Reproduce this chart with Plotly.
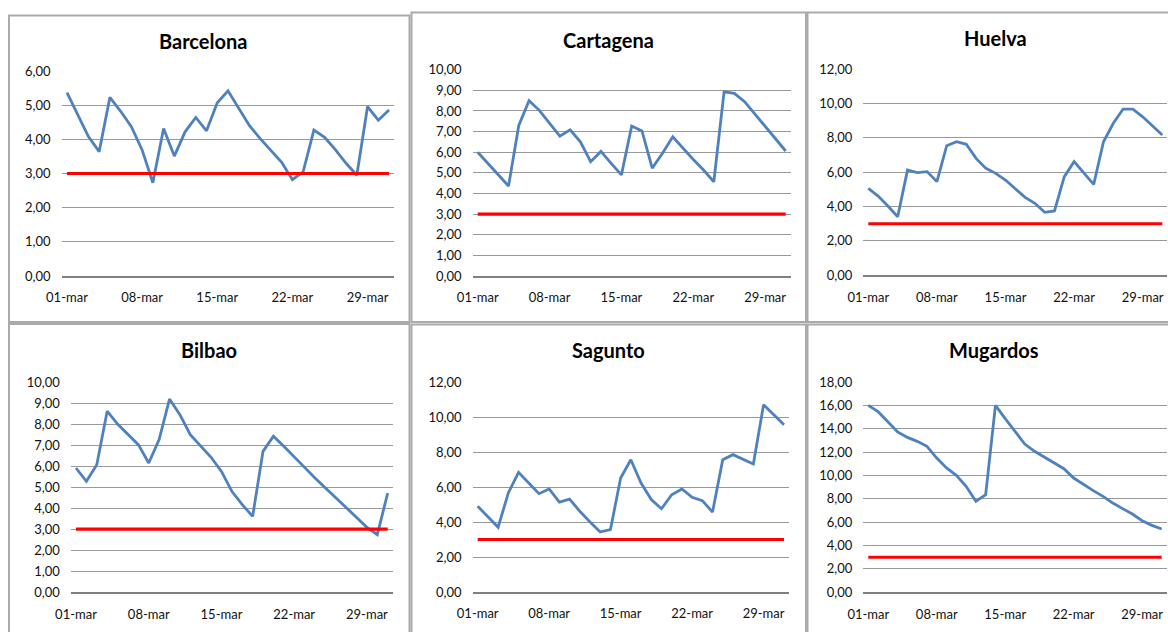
import plotly.graph_objects as go

# Daily series, March (one value per day, 01-mar .. 31-mar)
days = [f"{d:02d}-mar" for d in range(1, 32)]
tick_days = ["01-mar", "08-mar", "15-mar", "22-mar", "29-mar"]

barcelona = [5.37, 4.70, 4.08, 3.64, 5.23, 4.82, 4.37, 3.69, 2.73, 4.32, 3.51, 4.22, 4.64, 4.25, 5.07, 5.42,
             4.90, 4.40, 4.02, 3.68, 3.33, 2.82, 3.05, 4.27, 4.06, 3.70, 3.30, 2.95, 4.96, 4.56, 4.86]
cartagena = [6.00, 5.45, 4.90, 4.36, 7.30, 8.50, 8.03, 7.38, 6.78, 7.09, 6.50, 5.54, 6.04, 5.46, 4.90, 7.27,
             7.03, 5.23, 5.95, 6.75, 6.19, 5.65, 5.14, 4.57, 8.93, 8.85, 8.45, 7.84, 7.24, 6.66, 6.06]
huelva = [5.06, 4.61, 4.03, 3.41, 6.12, 5.97, 6.03, 5.45, 7.54, 7.77, 7.62, 6.80, 6.22, 5.93, 5.54, 5.06,
          4.53, 4.19, 3.66, 3.74, 5.74, 6.61, 5.93, 5.29, 7.77, 8.84, 9.67, 9.67, 9.22, 8.68, 8.16]
bilbao = [5.91, 5.28, 6.07, 8.61, 8.00, 7.50, 7.02, 6.15, 7.26, 9.19, 8.45, 7.50, 6.97, 6.42, 5.75, 4.80,
          4.17, 3.61, 6.70, 7.42, 6.94, 6.42, 5.94, 5.44, 4.96, 4.48, 4.01, 3.53, 3.09, 2.74, 4.72]
sagunto = [4.90, 4.32, 3.70, 5.66, 6.84, 6.23, 5.62, 5.89, 5.14, 5.31, 4.61, 4.00, 3.43, 3.56, 6.51, 7.56,
           6.23, 5.28, 4.76, 5.56, 5.89, 5.41, 5.22, 4.57, 7.56, 7.85, 7.56, 7.31, 10.70, 10.13, 9.56]
mugardos = [16.00, 15.46, 14.60, 13.72, 13.26, 12.92, 12.49, 11.49, 10.64, 10.01, 9.07, 7.79, 8.36, 16.00,
            14.86, 13.78, 12.69, 12.07, 11.55, 11.07, 10.58, 9.78, 9.21, 8.70, 8.21, 7.64, 7.16, 6.70, 6.13,
            5.73, 5.42]

threshold = [3.00] * 31

W, H = 1168, 632
BLUE = "#4F81BD"
RED = "#FF0000"
FONT = "Lato"

# name, values, y max, y step, plot box (px: left, right, top, bottom), frame box, title centre
panels = [
    ("Barcelona", barcelona, 6, 1, (61.6, 394.4, 71.0, 276.0), (9, 409.5, 15.5, 322), (203, 41)),
    ("Cartagena", cartagena, 10, 1, (472.6, 790.8, 69.7, 276.0), (411.5, 806, 12.5, 322), (609, 39.5)),
    ("Huelva", huelva, 12, 2, (863.4, 1167.2, 69.0, 275.3), (807.5, 1200, 12.5, 322), (995, 38)),
    ("Bilbao", bilbao, 10, 1, (70.8, 392.9, 382.0, 592.3), (9, 409.5, 324, 660), (209, 350)),
    ("Sagunto", sagunto, 12, 2, (472.6, 789.1, 382.0, 592.0), (411.5, 806, 324.5, 660), (608, 350)),
    ("Mugardos", mugardos, 18, 2, (863.4, 1166.6, 382.0, 592.3), (807.5, 1200, 324.5, 660), (994, 350)),
]

fig = go.Figure()
layout = dict(
    template="none",
    width=W, height=H,
    margin=dict(l=0, r=0, t=0, b=0, pad=0, autoexpand=False),
    paper_bgcolor="white", plot_bgcolor="white",
    showlegend=False,
    separators=",.",
    shapes=[], annotations=[],
)

for i, (name, vals, ymax, ystep, (l, r, t, b), (fx0, fx1, fy0, fy1), (tx, ty)) in enumerate(panels, start=1):
    sfx = "" if i == 1 else str(i)
    xa, ya = "x" + sfx, "y" + sfx

    fig.add_trace(go.Scatter(x=days, y=vals, mode="lines", xaxis=xa, yaxis=ya,
                             line=dict(color=BLUE, width=2.8), hoverinfo="skip"))
    fig.add_trace(go.Scatter(x=days, y=threshold, mode="lines", xaxis=xa, yaxis=ya,
                             line=dict(color=RED, width=3.2), hoverinfo="skip"))

    layout["xaxis" + sfx] = dict(
        domain=[l / W, r / W], anchor=ya, type="category", automargin=False,
        categoryorder="array", categoryarray=days,
        range=[-0.5, 30.5], tickmode="array", tickvals=tick_days, ticktext=tick_days,
        showgrid=False, zeroline=False, showline=True, linecolor="#808080", linewidth=1.7,
        ticks="", ticklabelstandoff=9,
        tickfont=dict(family=FONT, size=13, color="#111111"),
    )
    layout["yaxis" + sfx] = dict(
        domain=[1 - b / H, 1 - t / H], anchor=xa, automargin=False,
        range=[0, ymax], dtick=ystep, tick0=0, tickformat=".2f",
        showgrid=True, gridcolor="#999999", gridwidth=1.2, zeroline=False, showline=False,
        ticks="", ticklabelstandoff=10,
        tickfont=dict(family=FONT, size=13, color="#111111"),
    )

    layout["shapes"].append(dict(type="rect", xref="paper", yref="paper",
                                 x0=fx0 / W, x1=fx1 / W, y0=1 - fy1 / H, y1=1 - fy0 / H,
                                 line=dict(color="#aaaaaa", width=2), fillcolor="rgba(0,0,0,0)",
                                 layer="below"))
    layout["annotations"].append(dict(text="<b>" + name + "</b>", xref="paper", yref="paper",
                                      x=tx / W, y=1 - ty / H, xanchor="center", yanchor="middle",
                                      showarrow=False, font=dict(family=FONT, size=20, color="#000000")))

fig.update_layout(**layout)
fig.write_html(
    "out.html",
    config={"responsive": False, "displayModeBar": False},
    post_script="document.body.style.margin='0';document.body.style.overflow='hidden';",
)
